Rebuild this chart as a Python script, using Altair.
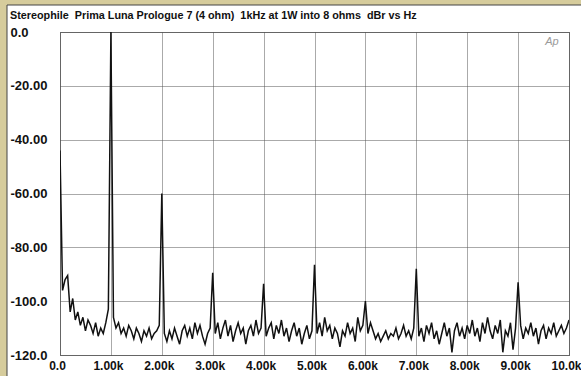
import altair as alt
import pandas as pd

TITLE = "Stereophile  Prima Luna Prologue 7 (4 ohm)  1kHz at 1W into 8 ohms  dBr vs Hz"
LOGO = "Ap"

FREQ_STEP_HZ = 50
# level in dBr, one value every 50 Hz from 0 Hz to 10 kHz
LEVEL_DBR = [
    -44, -96, -92, -90.5, -104, -99, -107, -104, -109, -106,          # 0 - 450
    -111, -107, -109, -112, -108, -113, -110, -112, -108, -103,       # 500 - 950
    0, -106, -110, -108, -112, -110, -113, -109, -111, -114,          # 1000 - 1450
    -110, -112, -115, -111, -113, -110, -114, -112, -111, -109,       # 1500 - 1950
    -60, -112, -115, -111, -114, -110, -113, -116, -111, -109,        # 2000 - 2450
    -113, -110, -114, -108, -112, -109, -113, -116, -112, -110,       # 2500 - 2950
    -89.5, -112, -108, -114, -110, -107, -113, -109, -115, -111,      # 3000 - 3450
    -108, -112, -110, -116, -111, -109, -113, -107, -112, -110,       # 3500 - 3950
    -93.5, -113, -110, -108, -114, -109, -112, -107, -113, -110,      # 4000 - 4450
    -115, -111, -108, -113, -110, -116, -112, -109, -114, -111,       # 4500 - 4950
    -86.5, -112, -108, -113, -106, -111, -109, -114, -110, -112,      # 5000 - 5450
    -117, -111, -113, -108, -112, -110, -115, -106, -111, -109,       # 5500 - 5950
    -100, -112, -108, -111, -114, -112, -115, -113, -111, -114,       # 6000 - 6450
    -112, -113, -110, -114, -112, -109, -113, -111, -114, -110,       # 6500 - 6950
    -88, -113, -110, -115, -109, -112, -108, -114, -111, -116,        # 7000 - 7450
    -112, -108, -113, -110, -119, -111, -108, -113, -110, -114,       # 7500 - 7950
    -109, -112, -107, -113, -110, -115, -108, -112, -106, -111,       # 8000 - 8450
    -114, -109, -112, -107, -119, -111, -113, -108, -118, -110,       # 8500 - 8950
    -93, -109, -114, -110, -112, -108, -113, -110, -116, -111,        # 9000 - 9450
    -109, -114, -110, -112, -108, -113, -111, -109, -112, -110,       # 9500 - 9950
    -107,                                                             # 10000
]

X_TICKS = [0, 1000, 2000, 3000, 4000, 5000, 6000, 7000, 8000, 9000, 10000]
X_TICK_LABELS = ["0.0", "1.00k", "2.00k", "3.00k", "4.00k", "5.00k",
                 "6.00k", "7.00k", "8.00k", "9.00k", "10.0k"]
Y_TICKS = [0, -20, -40, -60, -80, -100, -120]
Y_TICK_LABELS = ["0.0", "-20.00", "-40.00", "-60.00", "-80.00", "-100.0", "-120.0"]

df = pd.DataFrame({
    "freq": [i * FREQ_STEP_HZ for i in range(len(LEVEL_DBR))],
    "dbr": LEVEL_DBR,
})
one = pd.DataFrame({"k": [0]})

FONT = "Liberation Sans"
BEIGE = "#d6cc9c"
GRID = "#555555"

x_arr = "[" + ",".join("'%s'" % s for s in X_TICK_LABELS) + "]"
y_arr = "[" + ",".join("'%s'" % s for s in Y_TICK_LABELS) + "]"

line = alt.Chart(df).mark_line(color="#111111", strokeWidth=1.5, clip=True).encode(
    x=alt.X("freq:Q",
            scale=alt.Scale(domain=[0, 10000], nice=False),
            axis=alt.Axis(values=X_TICKS, title=None, ticks=False, tickSize=0,
                          domain=False, labelPadding=5, labelOffset=-3,
                          labelExpr=x_arr + "[round(datum.value/1000)]",
                          gridColor=GRID, gridDash=[1, 1], gridWidth=1,
                          labelFont=FONT, labelFontSize=12, labelFontWeight="bold",
                          labelColor="#111111", labelFlush=False, labelOverlap=False)),
    y=alt.Y("dbr:Q",
            scale=alt.Scale(domain=[-120, 0], nice=False),
            axis=alt.Axis(values=Y_TICKS, title=None, ticks=False, tickSize=0,
                          domain=False, labelPadding=50, labelAlign="left",
                          labelExpr=y_arr + "[round(-datum.value/20)]",
                          gridColor=GRID, gridDash=[1, 1], gridWidth=1,
                          labelFont=FONT, labelFontSize=13, labelFontWeight="bold",
                          labelColor="#111111", labelFlush=False, labelOverlap=False)),
)

top_strip = alt.Chart(one).mark_rect(fill=BEIGE, strokeWidth=0).encode(
    x=alt.value(-60), x2=alt.value(521), y=alt.value(-32), y2=alt.value(-27))
left_strip = alt.Chart(one).mark_rect(fill=BEIGE, strokeWidth=0).encode(
    x=alt.value(-60), x2=alt.value(-53), y=alt.value(-32), y2=alt.value(344))
panel_edge = alt.Chart(one).mark_rect(fill=None, stroke="#444444", strokeWidth=1).encode(
    x=alt.value(-53), x2=alt.value(560), y=alt.value(-27), y2=alt.value(400))

# keep the double spaces visible (SVG collapses plain runs of spaces)
title_shown = TITLE.replace("  ", "\u00a0 ")
title = alt.Chart(one).mark_text(text=title_shown, font=FONT, fontSize=10.8, fontWeight="bold",
                                 color="#111111", align="left", baseline="alphabetic").encode(
    x=alt.value(-50), y=alt.value(-13))

logo = alt.Chart(one).mark_text(text=LOGO, font=FONT, fontSize=11, fontStyle="italic",
                                color="#9a9a9a", align="center", baseline="middle").encode(
    x=alt.value(492), y=alt.value(10))

chart = alt.layer(top_strip, left_strip, panel_edge, line, logo, title).properties(
    width=509, height=323,
    padding={"left": 60, "top": 32, "right": 12, "bottom": 21},
    autosize=alt.AutoSizeParams(type="none"),
    background="white",
).configure_view(stroke="#777777", strokeWidth=1)

chart.save("out.html", embed_options={"renderer": "svg", "actions": False})
